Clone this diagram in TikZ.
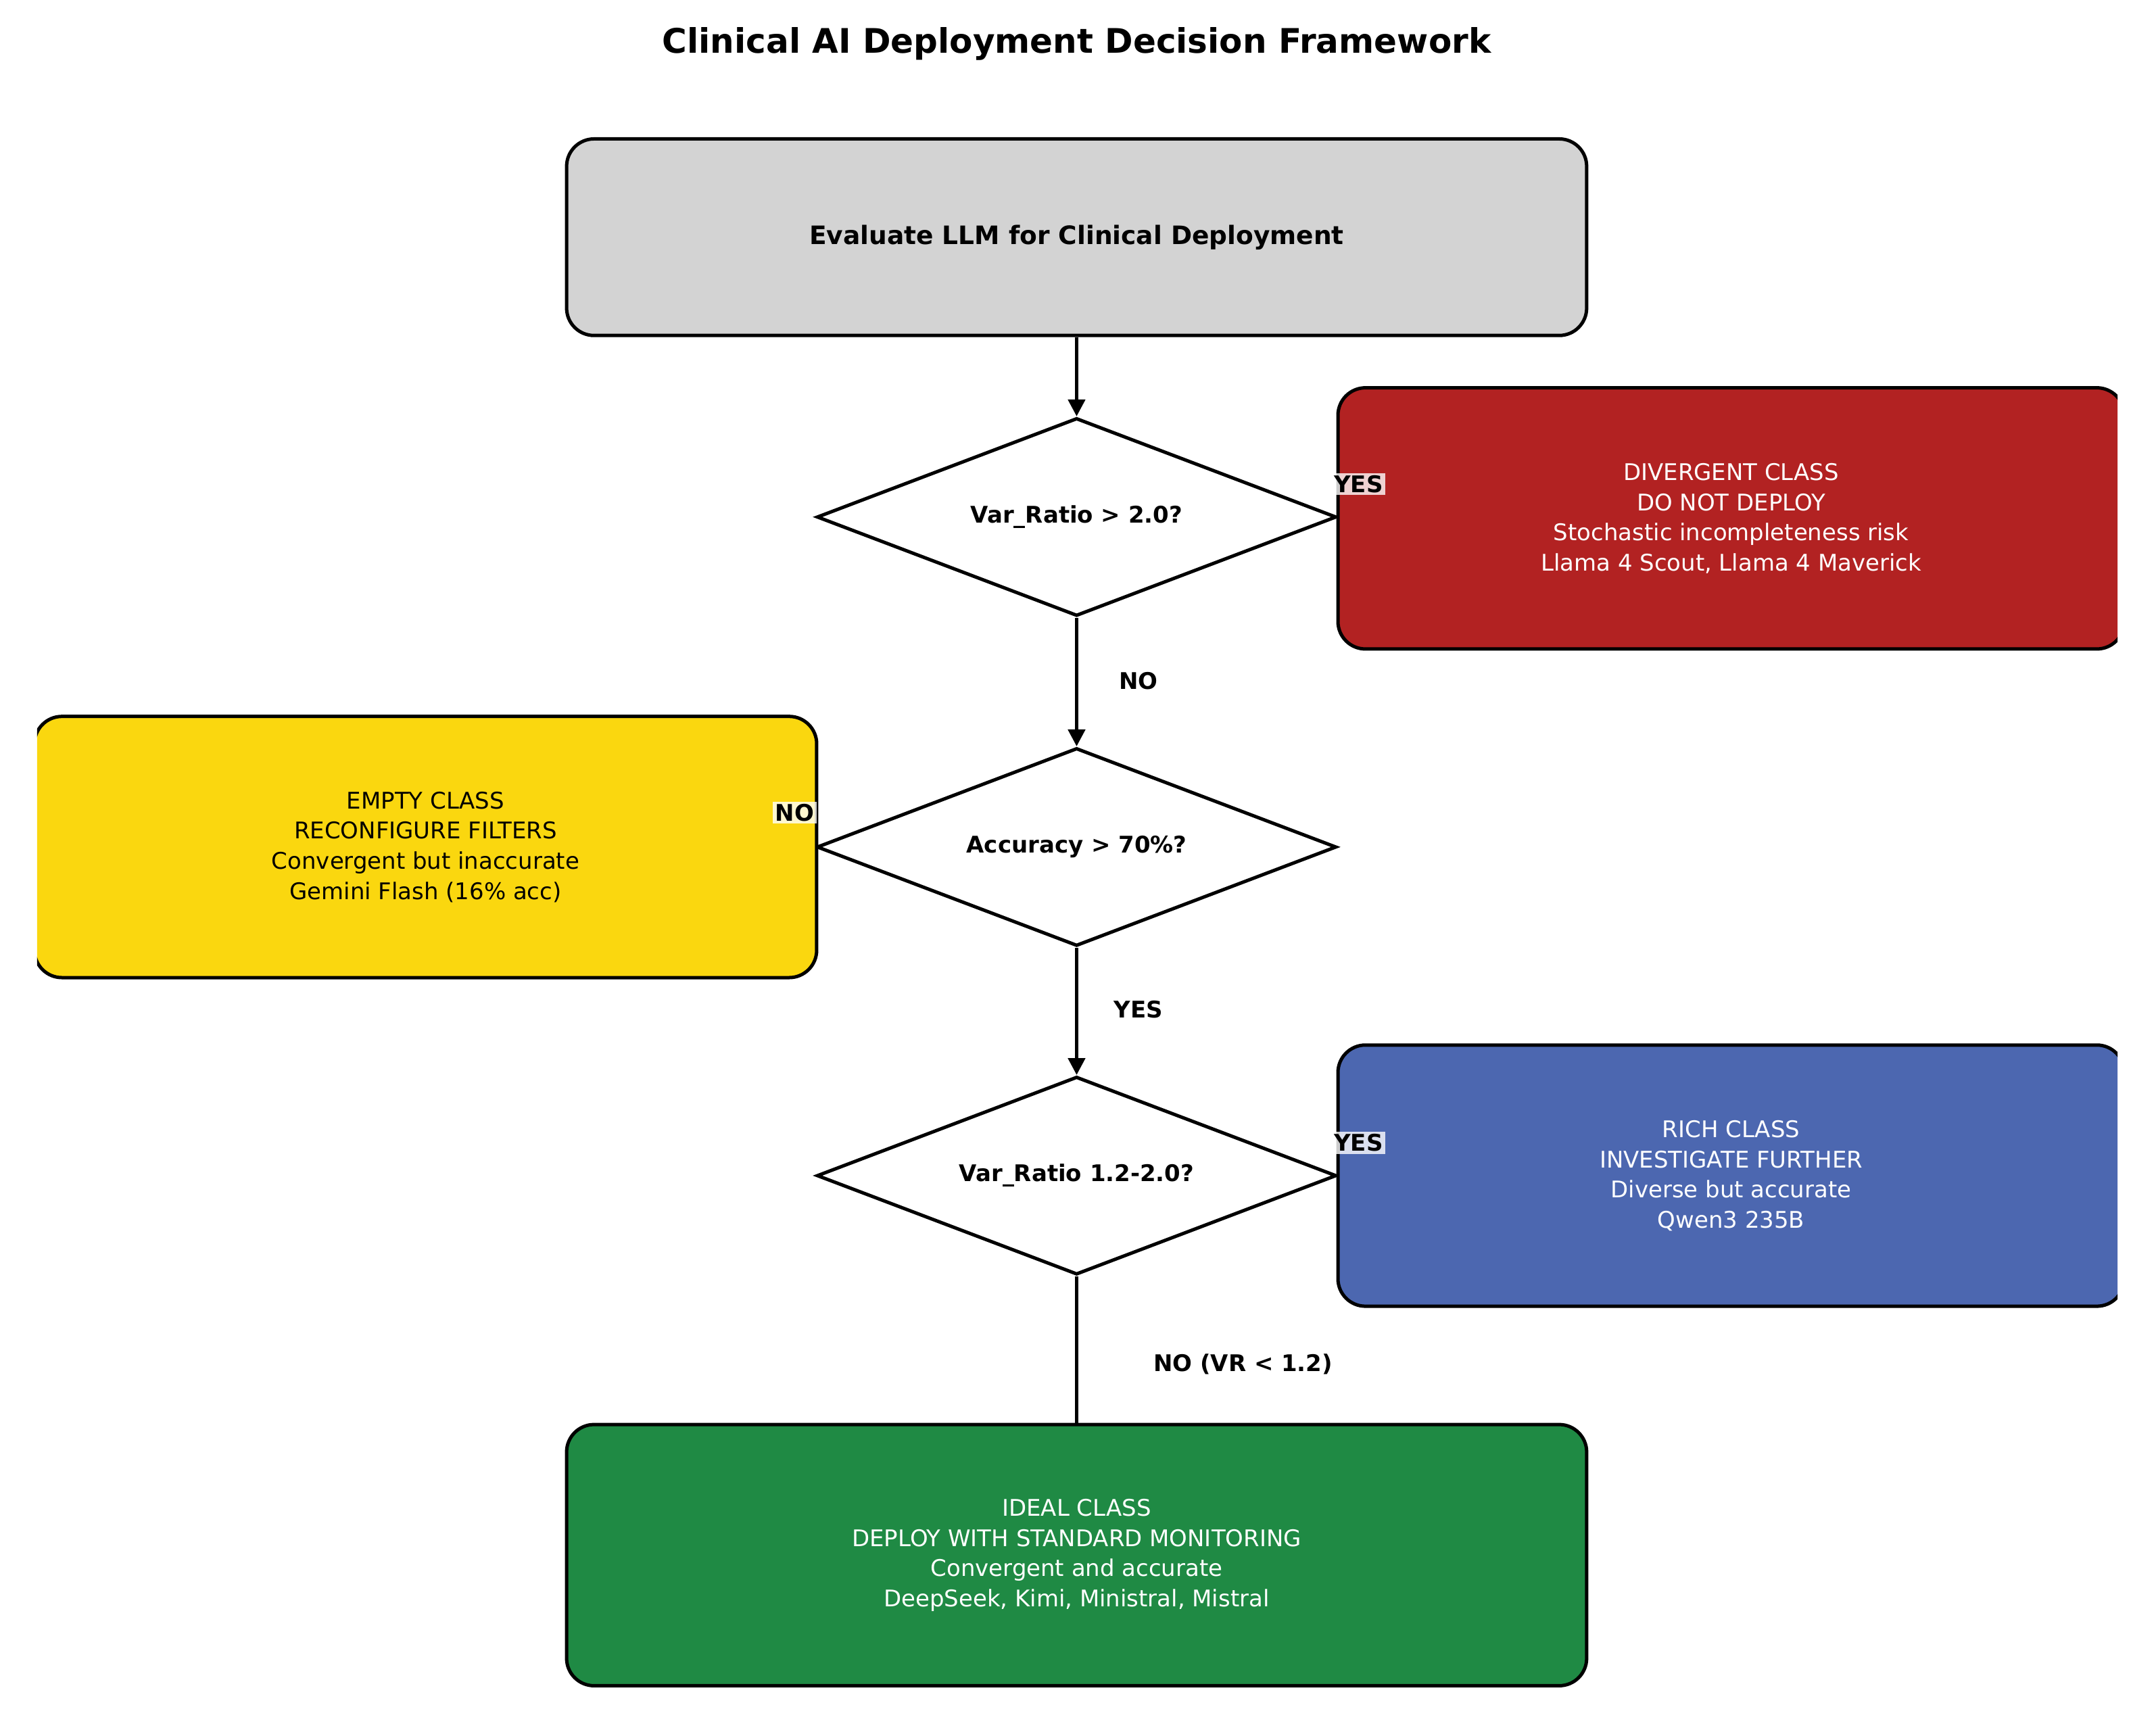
\documentclass[tikz,border=0pt]{standalone}
\usepackage{fontspec}
\setmainfont{DejaVu Sans}
\usetikzlibrary{positioning,shapes.geometric,arrows.meta}
\definecolor{topgray}{HTML}{D3D3D3}
\definecolor{divred}{HTML}{B22222}
\definecolor{emptyyel}{HTML}{FAD70F}
\definecolor{richblue}{HTML}{4C67B0}
\definecolor{idealgreen}{HTML}{1F8A44}
\tikzset{
  box/.style={draw, line width=1.4pt, rounded corners=0.4cm, align=center, font=\fontsize{9.5}{12.5}\selectfont, inner sep=0pt},
  test/.style={draw, diamond, line width=1.4pt, fill=white, minimum width=7.56cm, minimum height=2.88cm, inner sep=0pt, aspect=2.6, font=\bfseries\fontsize{9.5}{12}\selectfont},
  flow/.style={line width=1.4pt, -{Triangle[length=7pt,width=7pt]}},
  lab/.style={font=\bfseries\fontsize{9.5}{12}\selectfont, inner sep=1pt}
}
\begin{document}
\begin{tikzpicture}[x=0.02cm,y=-0.02cm]
				\useasboundingbox (0,0) rectangle (1568,1255);
				\node[font=\bfseries\fontsize{14}{16}\selectfont] (title) at (783,32) {Clinical AI Deployment Decision Framework};
				\node[box, fill=topgray, minimum width=14.84cm, minimum height=2.86cm, font=\bfseries\fontsize{10.5}{13}\selectfont] (eval) at (783,172.5) {Evaluate LLM for Clinical Deployment};
				\node[test] (d1) at (783,376) {Var\_Ratio > 2.0?};
				\node[test] (d2) at (783,616) {Accuracy > 70\%?};
				\node[test] (d3) at (783,855) {Var\_Ratio 1.2-2.0?};
				\begin{scope}
				\clip (27,0) rectangle (1540,1255);
				\node[box, fill=divred, text=white, minimum width=11.44cm, minimum height=3.8cm] (div) at (1259,377) {DIVERGENT CLASS\\DO NOT DEPLOY\\Stochastic incompleteness risk\\Llama 4 Scout, Llama 4 Maverick};
				\node[box, fill=emptyyel, minimum width=11.38cm, minimum height=3.8cm] (empty) at (309.5,616) {EMPTY CLASS\\RECONFIGURE FILTERS\\Convergent but inaccurate\\Gemini Flash (16\% acc)};
				\node[box, fill=richblue, text=white, minimum width=11.44cm, minimum height=3.8cm] (rich) at (1259,855) {RICH CLASS\\INVESTIGATE FURTHER\\Diverse but accurate\\Qwen3 235B};
				\end{scope}
				\node[box, fill=idealgreen, text=white, minimum width=14.84cm, minimum height=3.8cm] (ideal) at (783,1131) {IDEAL CLASS\\DEPLOY WITH STANDARD MONITORING\\Convergent and accurate\\DeepSeek, Kimi, Ministral, Mistral};
				\draw[flow] (eval) -- (d1);
				\draw[flow] (d1) -- (d2);
				\draw[flow] (d2) -- (d3);
				\draw[line width=1.4pt] (d3) -- (ideal);
				\node[lab, fill=white, fill opacity=0.8, text opacity=1] (yes1) at (988,352) {YES};
				\node[lab, fill=white, fill opacity=0.8, text opacity=1] (no2) at (578,591) {NO};
				\node[lab, fill=white, fill opacity=0.8, text opacity=1] (yes3) at (988,831) {YES};
				\node[lab] (no1) at (828,495) {NO};
				\node[lab] (yes2) at (828,734) {YES};
				\node[lab] (no3) at (904,992) {NO (VR < 1.2)};
				\end{tikzpicture}
\end{document}
